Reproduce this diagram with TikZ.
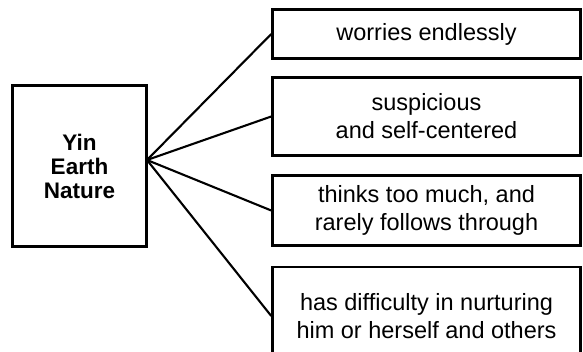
\documentclass[tikz,border=0pt]{standalone}
\usepackage{fontspec}
\setmainfont{Liberation Sans}
\usetikzlibrary{positioning}
\tikzstyle{link} = [line width=2.1pt, black]

\begin{document}
\begin{tikzpicture}[x=1pt, y=-1pt,
    trait/.style={rectangle, draw=black, line width=2.5pt, fill=white, minimum width=308pt, align=center, inner sep=0pt, font=\fontsize{23.5}{28}\selectfont},
    nature/.style={rectangle, draw=black, line width=2.5pt, fill=white, minimum width=134pt, minimum height=161pt, align=center, inner sep=0pt, font=\bfseries\fontsize{22.5}{24}\selectfont}]
\clip (0,0) rectangle (583,352);

% Nature box
\node[nature] (yin) at (79.5,166) {Yin\\Earth\\Nature};
\coordinate (hub) at (147,160);

% Traits
\node[trait, minimum height=49pt] (worry) at (426.5,34) {worries endlessly};
\node[trait, minimum height=78pt] (suspect) at (426.5,116.5) {suspicious\\and self-centered};
\node[trait, minimum height=70pt] (think) at (426.5,210.5) {thinks too much, and\\rarely follows through};
\node[trait, minimum height=98pt] (nurture) at (426.5,316) {has difficulty in nurturing\\him or herself and others};

% Connections
\draw[link] (hub) -- (worry.west);
\draw[link] (hub) -- (suspect.west);
\draw[link] (hub) -- (think.west);
\draw[link] (hub) -- (nurture.west);
\end{tikzpicture}
\end{document}
